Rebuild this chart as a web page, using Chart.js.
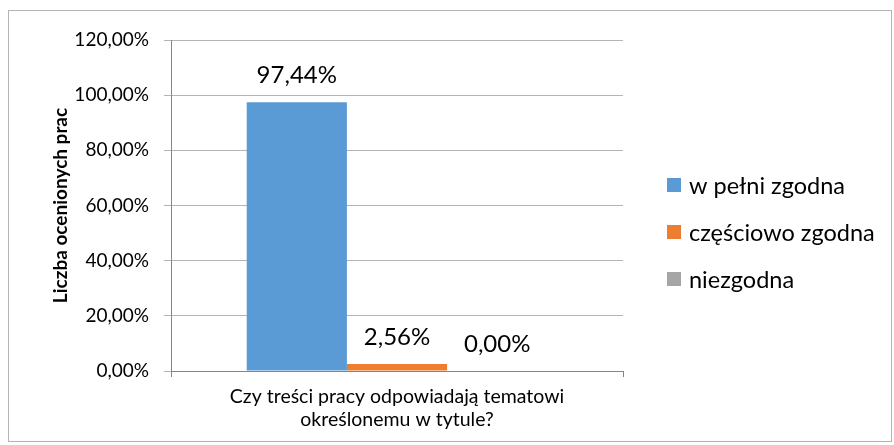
<!DOCTYPE html>
<html>
<head>
<meta charset="utf-8">
<script src="https://cdn.jsdelivr.net/npm/chart.js@4"></script>
<style>
  body { margin: 0; background: #fff; }
  #box {
    position: absolute; left: 8px; top: 10px;
    width: 882px; height: 430px;
    border: 1px solid #b3b3b3;
  }
</style>
</head>
<body>
<div id="box"><canvas id="wykres"></canvas></div>
<script>
var kategorie = [['Czy treści pracy odpowiadają tematowi', 'określonemu w tytule?']];
var serie = ['w pełni zgodna', 'częściowo zgodna', 'niezgodna'];
var wartosci = [97.44, 2.56, 0.00];
var kolory = ['#5b9bd5', '#ed7d31', '#a5a5a5'];
var tytulOsiY = 'Liczba ocenionych prac';

function procent(v) {
   return v.toFixed(2).replace('.', ',') + '%';
}

// etykiety nad slupkami
const etykiety = {
   id: 'etykiety',
   afterDatasetsDraw(chart) {
      const ctx = chart.ctx;
      ctx.save();
      ctx.font = '24px Lato';
      ctx.fillStyle = '#000';
      ctx.textAlign = 'center';
      ctx.textBaseline = 'middle';
      chart.data.datasets.forEach((ds, i) => {
         chart.getDatasetMeta(i).data.forEach((bar, j) => {
            ctx.fillText(procent(ds.data[j]), bar.x, bar.y - 27);
         });
      });
      ctx.restore();
   }
};

// legenda po prawej
const legenda = {
   id: 'legenda',
   afterDraw(chart) {
      const ctx = chart.ctx;
      ctx.save();
      ctx.font = '23.5px Lato';
      ctx.textBaseline = 'middle';
      chart.data.datasets.forEach((ds, i) => {
         const y = 174 + i * 47;
         ctx.fillStyle = ds.backgroundColor;
         ctx.fillRect(658, y - 7, 14, 14);
         ctx.fillStyle = '#000';
         ctx.fillText(ds.label, 680, y + 1);
      });
      ctx.restore();
   }
};

const ctx = document.getElementById('wykres').getContext('2d');
const myChart = new Chart(ctx, {
   type: 'bar',
   data: {
      labels: kategorie,
      datasets: serie.map((s, i) => ({
         label: s,
         data: [wartosci[i]],
         backgroundColor: kolory[i],
         barPercentage: 1,
         categoryPercentage: 0.665
      }))
   },
   options: {
      responsive: true,
      maintainAspectRatio: false,
      animation: false,
      layout: { padding: { top: 29, right: 268, left: 0, bottom: 0 } },
      plugins: {
         legend: { display: false },
         tooltip: { enabled: false }
      },
      scales: {
         x: {
            border: { color: '#868686' },
            grid: { drawOnChartArea: false, drawTicks: true, tickLength: 6, color: '#868686' },
            ticks: { color: '#000', font: { family: 'Lato', size: 19.5, lineHeight: 1.15 }, padding: 9 },
            afterFit: s => { s.height = 70; }
         },
         y: {
            min: 0,
            max: 120,
            border: { color: '#868686' },
            grid: { color: '#b3b3b3', tickLength: 7 },
            ticks: {
               stepSize: 20,
               color: '#000',
               padding: 15,
               font: { family: 'Lato', size: 19 },
               callback: v => procent(v)
            },
            title: {
               display: true,
               text: tytulOsiY,
               color: '#000',
               font: { family: 'Lato', size: 19, weight: 'bold', lineHeight: 1.2 },
               padding: { top: 40, bottom: 0 }
            },
            afterFit: s => { s.width = 162; }
         }
      }
   },
   plugins: [etykiety, legenda]
});
</script>
</body>
</html>
